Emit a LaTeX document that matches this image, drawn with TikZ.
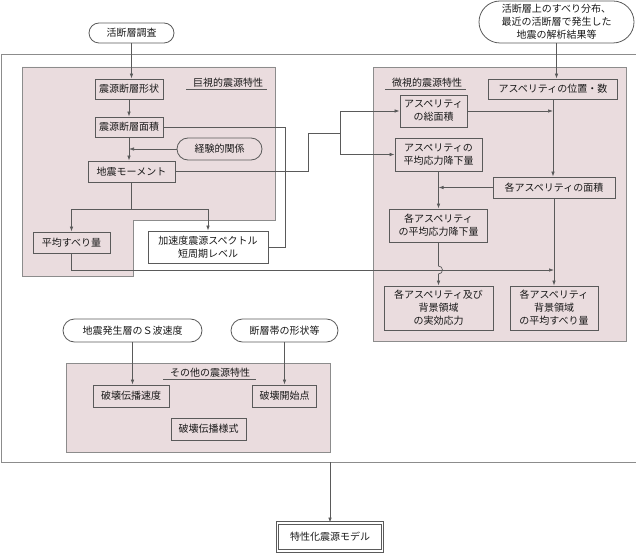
\documentclass[tikz,border=0pt]{standalone}
\usepackage{fontspec}
\setmainfont{Noto Sans CJK JP}
\usetikzlibrary{arrows.meta,shapes.misc}
\definecolor{regionpink}{HTML}{EADCDE}
\definecolor{linegray}{HTML}{5A5A5A}
\definecolor{edgegray}{HTML}{8C8C8C}
\tikzset{
  box/.style={draw=linegray,line width=0.8pt,align=center,inner sep=1pt,text=black!90,font=\fontsize{10}{13}\selectfont},
  src/.style={box,rounded rectangle},
  region/.style={fill=regionpink,draw=edgegray,line width=0.8pt},
  title/.style={inner sep=1.5pt,text=black!90,font=\fontsize{10}{13}\selectfont},
  conn/.style={draw=linegray,line width=0.7pt},
  arr/.style={conn,-{Latex[length=5pt,width=3.5pt]}},
}
\begin{document}
\begin{tikzpicture}[x=1pt,y=-1pt]
\useasboundingbox (0,0) rectangle (636,553);
% outer frame and shaded groups
\draw[edgegray,line width=1pt] (636,55) -- (1,55) -- (1,462) -- (636,462);
\draw[region] (22,67) -- (275,67) -- (275,220) -- (133,220) -- (133,276) -- (22,276) -- cycle;
\draw[region] (373,67) rectangle (626,341);
\draw[region] (66,363) rectangle (330,452);
\node[title] (macrotitle) at (228,83) {巨視的震源特性};
\node[title] (microtitle) at (427,83) {微視的震源特性};
\node[title] (othertitle) at (210,373) {その他の震源特性};
\draw[linegray,line width=0.6pt] ([xshift=-5pt]macrotitle.south west) -- ([xshift=2pt]macrotitle.south east);
\draw[linegray,line width=0.6pt] ([xshift=-5pt]microtitle.south west) -- ([xshift=2pt]microtitle.south east);
\draw[linegray,line width=0.6pt] ([xshift=-5pt]othertitle.south west) -- ([xshift=4pt]othertitle.south east);
% inputs
\node[src,minimum width=87pt,minimum height=20pt] (survey) at (131.5,33) {活断層調査};
\node[src,minimum width=157pt,minimum height=42pt] (slipdata) at (556.5,22) {活断層上のすべり分布、\\最近の活断層で発生した\\地震の解析結果等};
\node[src,minimum width=87pt,minimum height=22pt] (empir) at (219.5,149) {経験的関係};
\node[src,minimum width=141pt,minimum height=23pt] (swave) at (132.5,330.5) {地震発生層のＳ波速度};
\node[src,minimum width=109pt,minimum height=23pt] (faultzone) at (284.5,330.5) {断層帯の形状等};
% macroscopic
\node[box,minimum width=68pt,minimum height=20pt] (shape) at (129,89) {震源断層形状};
\node[box,minimum width=68pt,minimum height=20pt] (area) at (129,127) {震源断層面積};
\node[box,minimum width=87pt,minimum height=21pt] (moment) at (131.5,171.5) {地震モーメント};
\node[box,minimum width=77pt,minimum height=21pt] (avgslip) at (71.5,242.5) {平均すべり量};
\node[box,fill=white,minimum width=120pt,minimum height=32pt] (accel) at (208,247) {加速度震源スペクトル\\短周期レベル};
% microscopic
\node[box,minimum width=129pt,minimum height=20pt] (asppos) at (553,89) {アスペリティの位置・数};
\node[box,minimum width=67pt,minimum height=32pt] (asparea) at (433.5,111) {アスペリティ\\の総面積};
\node[box,minimum width=87pt,minimum height=33pt] (aspstress) at (438.5,154.5) {アスペリティの\\平均応力降下量};
\node[box,minimum width=122pt,minimum height=21pt] (eacharea) at (554,187.5) {各アスペリティの面積};
\node[box,minimum width=98pt,minimum height=33pt] (eachstress) at (438.5,225.5) {各アスペリティ\\の平均応力降下量};
\node[box,minimum width=109pt,minimum height=44pt] (effstress) at (438.5,308) {各アスペリティ及び\\背景領域\\の実効応力};
\node[box,minimum width=88pt,minimum height=44pt] (bgslip) at (554,308) {各アスペリティ\\背景領域\\の平均すべり量};
% other
\node[box,minimum width=76pt,minimum height=22pt] (ruptvel) at (131,396) {破壊伝播速度};
\node[box,minimum width=64pt,minimum height=22pt] (hypo) at (284.5,396) {破壊開始点};
\node[box,minimum width=75pt,minimum height=22pt] (ruptmode) at (208.5,429) {破壊伝播様式};
% result
\node[box,double,double distance=1.6pt,minimum width=105pt,minimum height=28pt] (model) at (330,537) {特性化震源モデル};

\coordinate (momfork) at (133,209);
\coordinate (mbend) at (308,133);
\coordinate (mfork) at (340,133);
\coordinate (hop) at (eachstress.south |- 0,270);
\coordinate (frameout) at (330,462);

\draw[arr] (survey.south) -- (survey.south |- shape.north);
\draw[arr] (shape.south) -- (area.north);
\draw[arr] (area.south) -- (area.south |- moment.north);
\draw[arr] (empir.west) -- (empir.west -| area.south);
\draw[conn] (moment.south) -- (moment.south |- momfork);
\draw[arr] (momfork) -| (avgslip.north);
\draw[arr] (momfork) -| (accel.north);
\draw[conn] (accel.east) -- ++(17,0) |- (area.east);
\draw[conn] (moment.east) -| (mbend) -- (mfork);
\draw[arr] (mfork) |- (asparea.west);
\draw[arr] (mfork) |- (aspstress.west);
\draw[arr] (slipdata.south) -- (slipdata.south |- asppos.north);
\draw[arr] (asppos.south) -- (asppos.south |- eacharea.north);
\draw[arr] (asparea.east) -- (asparea.east -| asppos.south);
\draw[arr] (eacharea.west) -- (eacharea.west -| aspstress.south);
\draw[arr] (aspstress.south) -- (eachstress.north);
\draw[arr] (eachstress.south) -- ([yshift=4pt]hop) arc[start angle=90,end angle=-90,radius=4pt] -- (eachstress.south |- effstress.north);
\draw[arr] (avgslip.south) |- (eacharea.south |- hop);
\draw[arr] (eacharea.south) -- (eacharea.south |- bgslip.north);
\draw[arr] (swave.south) -- (swave.south |- ruptvel.north);
\draw[arr] (faultzone.south) -- (faultzone.south |- hypo.north);
\draw[arr] (frameout) -- (model.north);
\end{tikzpicture}
\end{document}
